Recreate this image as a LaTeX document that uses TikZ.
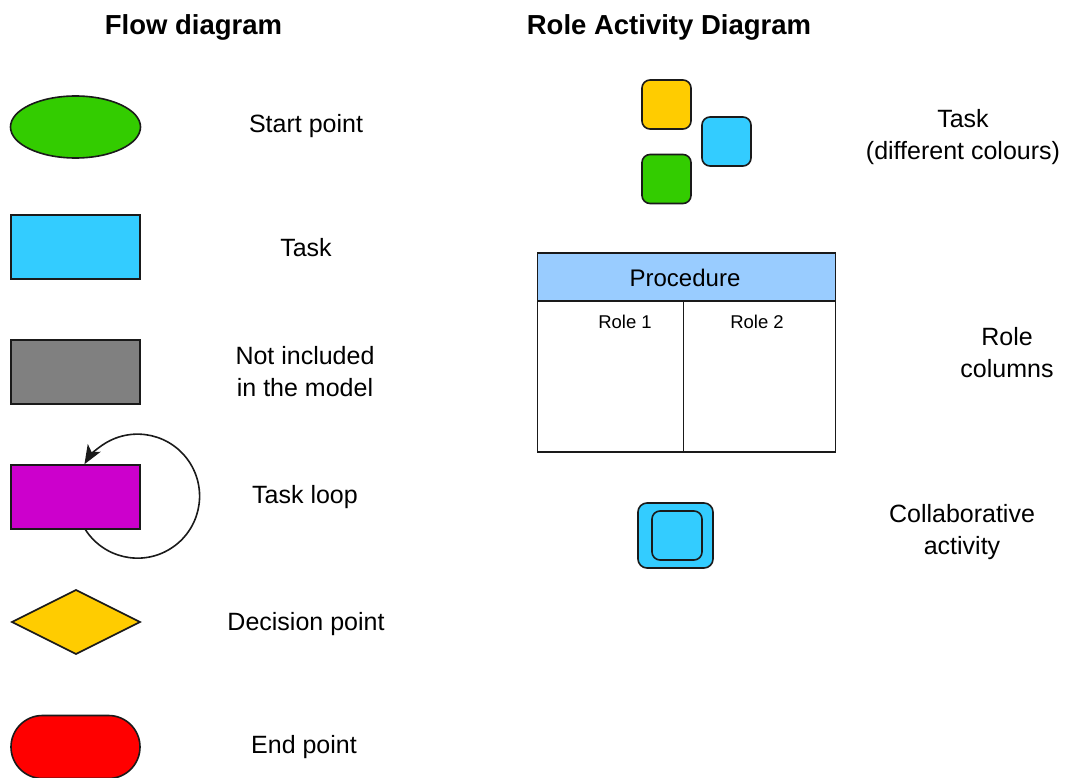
\documentclass[tikz,border=0pt]{standalone}
\usepackage{fontspec}
\setmainfont{Liberation Sans}
\usetikzlibrary{shapes.geometric,arrows.meta,calc}
\definecolor{startgreen}{HTML}{33CC00}
\definecolor{taskcyan}{HTML}{33CCFF}
\definecolor{outgray}{HTML}{808080}
\definecolor{loopmag}{HTML}{CC00CC}
\definecolor{decyellow}{HTML}{FFCC00}
\definecolor{endred}{HTML}{FF0000}
\definecolor{headblue}{HTML}{99CCFF}
\definecolor{edge}{HTML}{1A1A1A}
\tikzset{
  shp/.style={draw=edge, line width=1.6pt, inner sep=0pt, outer sep=0pt},
  flowbox/.style={shp, rectangle, minimum width=129pt, minimum height=64pt},
  sq/.style={shp, rectangle, rounded corners=8pt, minimum width=49pt, minimum height=49pt},
  lbl/.style={align=center, font=\fontsize{25}{32}\selectfont, inner sep=0pt},
  ttl/.style={font=\fontsize{27.5}{32}\selectfont\bfseries, inner sep=0pt},
  rolelbl/.style={font=\fontsize{18.5}{22}\selectfont, inner sep=0pt},
}
\begin{document}
\begin{tikzpicture}[x=1pt,y=1pt]
\useasboundingbox (0,0) rectangle (1072,-778);

% headings
\node[ttl] (tflow) at (193.5,-27) {Flow diagram};
\node[ttl] (trad) at (669,-27) {Role Activity Diagram};

% flow diagram symbols
\node[shp, ellipse, fill=startgreen, minimum width=130pt, minimum height=62pt] (start) at (75.5,-127) {};
\node[lbl] (lstart) at (306,-126) {Start point};

\node[flowbox, fill=taskcyan] (task) at (75.5,-247) {};
\node[lbl] (ltask) at (306,-248) {Task};

\node[flowbox, fill=outgray] (excl) at (75.5,-372) {};
\node[lbl] (lexcl) at (305,-372) {Not included\\in the model};

\node[flowbox, fill=loopmag] (tloop) at (75.5,-497) {};
\draw[line width=1.6pt, edge, -{Stealth[length=19pt,width=15pt,inset=5pt]}]
  ($(tloop.south)+(9.5,0)$) arc[start angle=-148, end angle=149, radius=62pt];
\node[lbl] (lloop) at (305,-497) {Task loop};

\node[shp, diamond, fill=decyellow, minimum width=128pt, minimum height=64pt] (dec) at (76,-622) {};
\node[lbl] (ldec) at (306,-624) {Decision point};

\node[flowbox, fill=endred, rounded corners=31.5pt, minimum height=63pt] (endp) at (75.5,-747) {};
\node[lbl] (lend) at (304,-747) {End point};

% role activity diagram symbols
\node[sq, fill=decyellow] (sqa) at (666.5,-104.5) {};
\node[sq, fill=taskcyan] (sqb) at (726.5,-141.5) {};
\node[sq, fill=startgreen] (sqc) at (666.5,-179) {};
\node[lbl] (lsq) at (963,-137) {Task\\(different colours)};

% procedure table with two role columns
\node[shp, rectangle, fill=headblue, minimum width=298pt, minimum height=48pt] (proc) at (686.5,-277) {};
\node[font=\fontsize{24}{28}\selectfont, inner sep=0pt] (lproc) at (685,-278) {Procedure};
\node[shp, rectangle, anchor=north west, minimum width=146pt, minimum height=151pt] (role1) at (proc.south west) {};
\node[shp, rectangle, anchor=north east, minimum width=152pt, minimum height=151pt] (role2) at (proc.south east) {};
\node[rolelbl] (lr1) at (625,-322) {Role 1};
\node[rolelbl] (lr2) at (757,-322) {Role 2};
\node[lbl] (lcols) at (1007,-353) {Role\\columns};

% collaborative activity
\node[shp, rectangle, rounded corners=9pt, fill=taskcyan, minimum width=75pt, minimum height=65pt] (collab) at (675.5,-535.5) {};
\node[shp, rectangle, rounded corners=8pt, fill=taskcyan, minimum width=50pt, minimum height=49pt] (collabin) at (677,-535.5) {};
\node[lbl] (lcollab) at (962,-532) {Collaborative\\activity};
\end{tikzpicture}
\end{document}
